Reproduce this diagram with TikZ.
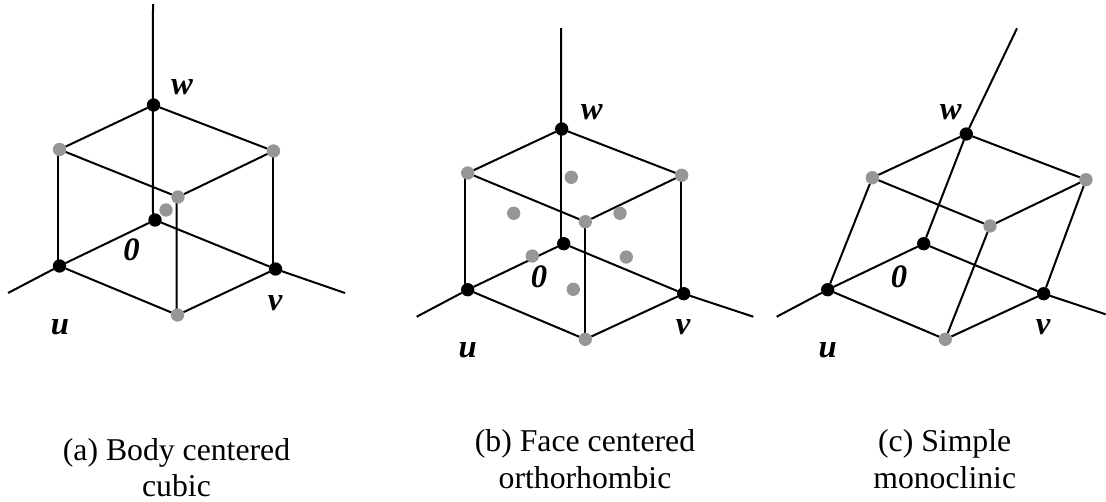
\documentclass[tikz,border=0pt]{standalone}
\usepackage{fontspec}
\setmainfont{Liberation Serif}
\usetikzlibrary{backgrounds}
\tikzset{
  x=0.75pt,y=-0.75pt,
  pt black/.style={circle,fill=black,draw=none,inner sep=0pt,outer sep=0pt,minimum size=10pt},
  pt gray/.style={circle,fill=ptgray,draw=none,inner sep=0pt,outer sep=0pt,minimum size=10pt},
  axislabel/.style={inner sep=0pt,font=\fontsize{24.5}{26}\selectfont\bfseries\itshape},
  caption/.style={inner sep=0pt,align=center,font=\fontsize{23.8}{27.3}\selectfont},
  edge/.style={draw=black,line width=1.5pt}
}
\definecolor{ptgray}{RGB}{150,150,150}
\begin{document}
\begin{tikzpicture}
\useasboundingbox (0,0) rectangle (1106,501);
% (a)
\node[pt black] (aw) at (153.5,105) {};
\node[pt black] (ao) at (155,220) {};
\node[pt black] (au) at (59.5,266) {};
\node[pt black] (av) at (275.5,269) {};
\node[pt gray] (atl) at (59.5,149.5) {};
\node[pt gray] (atr) at (273.5,151) {};
\node[pt gray] (af) at (178,197) {};
\node[pt gray] (ab) at (177.5,315) {};
\node[pt gray] (ac) at (166,210) {};
\coordinate (atop) at (153,4);
\coordinate (aleft) at (8,293);
\coordinate (aright) at (345,293);
\begin{scope}[on background layer]
\draw[edge] (atop) -- ([xshift=-.4pt]aw.center);
\draw[edge] ([xshift=-.4pt]aw.center) -- ([xshift=-1.5pt]ao.center);
\draw[edge] (aleft) -- (au);
\draw[edge] (au) -- (ao);
\draw[edge] (ao) -- (av);
\draw[edge] (av) -- (aright);
\draw[edge] (aw) -- (atl);
\draw[edge] (aw) -- (atr);
\draw[edge] (atl) -- (af);
\draw[edge] (atr) -- (af);
\draw[edge] ([xshift=-1.5pt]atl.center) -- ([xshift=-1.5pt]au.center);
\draw[edge] ([xshift=-.4pt]atr.center) -- ([xshift=-1.9pt]av.center);
\draw[edge] ([xshift=-1pt]af.center) -- ([xshift=-.7pt]ab.center);
\draw[edge] (au) -- (ab);
\draw[edge] (av) -- (ab);
\end{scope}
\node[axislabel] (awl) at (182,87) {w};
\node[axislabel] (aol) at (131.5,250) {0};
\node[axislabel] (aul) at (60,327.5) {u};
\node[axislabel] (avl) at (275,303.5) {v};
\node[caption] (acap) at (176.5,467.5) {(a) Body centered\\cubic};
% (b)
\node[pt black] (bw) at (561.7,129) {};
\node[pt black] (bo) at (563.7,243.7) {};
\node[pt black] (bu) at (467.7,289.7) {};
\node[pt black] (bv) at (683.7,293.7) {};
\node[pt gray] (btl) at (467.7,173) {};
\node[pt gray] (btr) at (681.7,175.3) {};
\node[pt gray] (bf) at (585.3,221.7) {};
\node[pt gray] (bb) at (585.3,339.3) {};
\node[pt gray] (bf1) at (571.3,177.3) {};
\node[pt gray] (bf2) at (513.7,213.3) {};
\node[pt gray] (bf3) at (620,213.3) {};
\node[pt gray] (bf4) at (532.3,256) {};
\node[pt gray] (bf5) at (626.3,257) {};
\node[pt gray] (bf6) at (573.3,289.3) {};
\coordinate (btop) at (561,28);
\coordinate (bleft) at (416.7,316.7);
\coordinate (bright) at (753.3,316.7);
\begin{scope}[on background layer]
\draw[edge] (btop) -- ([xshift=-.5pt]bw.center);
\draw[edge] ([xshift=-.5pt]bw.center) -- ([xshift=-2pt]bo.center);
\draw[edge] (bleft) -- (bu);
\draw[edge] (bu) -- (bo);
\draw[edge] (bo) -- (bv);
\draw[edge] (bv) -- (bright);
\draw[edge] (bw) -- (btl);
\draw[edge] (bw) -- (btr);
\draw[edge] (btl) -- (bf);
\draw[edge] (btr) -- (bf);
\draw[edge] ([xshift=-2pt]btl.center) -- ([xshift=-2pt]bu.center);
\draw[edge] ([xshift=-.5pt]btr.center) -- ([xshift=-2pt]bv.center);
\draw[edge] ([xshift=-.5pt]bf.center) -- ([xshift=-.5pt]bb.center);
\draw[edge] (bu) -- (bb);
\draw[edge] (bv) -- (bb);
\end{scope}
\node[axislabel] (bwl) at (591.7,112) {w};
\node[axislabel] (bol) at (539,276.7) {0};
\node[axislabel] (bul) at (467.7,350.5) {u};
\node[axislabel] (bvl) at (683,327.5) {v};
\node[caption] (bcap) at (585,459) {(b) Face centered\\orthorhombic};
% (c)
\node[pt black] (cw) at (966.3,134) {};
\node[pt black] (co) at (923.7,243.7) {};
\node[pt black] (cu) at (827.7,289.7) {};
\node[pt black] (cv) at (1043.7,293.7) {};
\node[pt gray] (ctl) at (872.3,177.7) {};
\node[pt gray] (ctr) at (1086,179.7) {};
\node[pt gray] (cf) at (990,226) {};
\node[pt gray] (cb) at (945.3,339.3) {};
\coordinate (ctop) at (1017,28.3);
\coordinate (cleft) at (776.7,316.7);
\coordinate (cright) at (1105.7,314.3);
\begin{scope}[on background layer]
\draw[edge] (ctop) -- (cw);
\draw[edge] (cw) -- (co);
\draw[edge] (cleft) -- (cu);
\draw[edge] (cu) -- (co);
\draw[edge] (co) -- (cv);
\draw[edge] (cv) -- (cright);
\draw[edge] (cw) -- (ctl);
\draw[edge] (cw) -- (ctr);
\draw[edge] (ctl) -- (cf);
\draw[edge] (ctr) -- (cf);
\draw[edge] (ctl) -- (cu);
\draw[edge] (ctr) -- (cv);
\draw[edge] (cf) -- (cb);
\draw[edge] (cu) -- (cb);
\draw[edge] (cv) -- (cb);
\end{scope}
\node[axislabel] (cwl) at (950.7,112) {w};
\node[axislabel] (col) at (899,276.7) {0};
\node[axislabel] (cul) at (827.7,350.5) {u};
\node[axislabel] (cvl) at (1043,327.5) {v};
\node[caption] (ccap) at (944.7,459) {(c) Simple\\monoclinic};
\end{tikzpicture}
\end{document}
